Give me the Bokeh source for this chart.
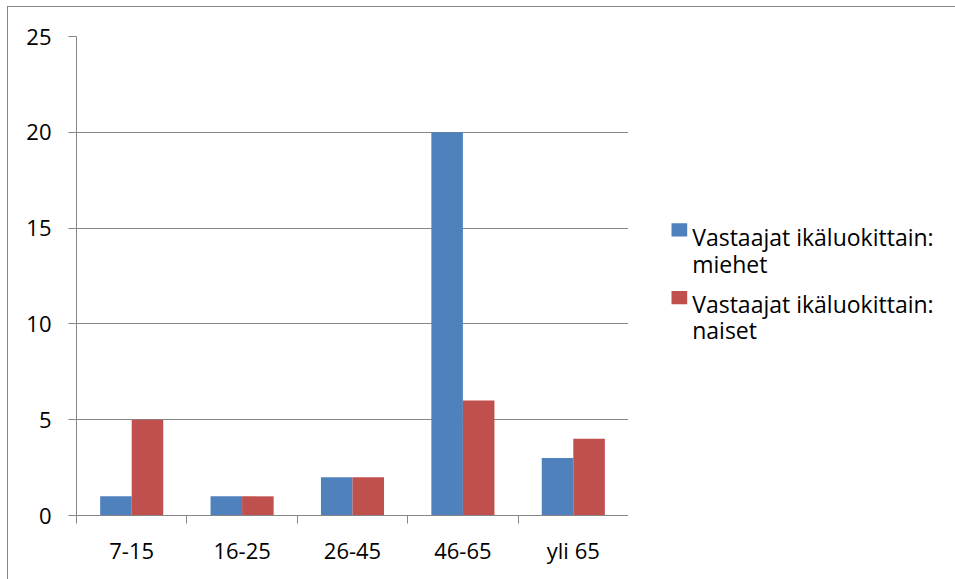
from bokeh.plotting import figure
from bokeh.layouts import row
from bokeh.models import FixedTicker, Range1d, ColumnDataSource
from bokeh.core.properties import value
from bokeh.embed import file_html
from bokeh.resources import INLINE
import numpy as np

categories = ["7-15", "16-25", "26-45", "46-65", "yli 65"]
men = [1, 1, 2, 20, 3]
women = [5, 1, 2, 6, 4]
legend_lines = [["Vastaajat ikäluokittain:", "miehet"], ["Vastaajat ikäluokittain:", "naiset"]]
y_ticks = [0, 5, 10, 15, 20, 25]

BLUE = "#4F81BD"
RED = "#C0504D"
GRAY = "#868686"
FONT = "Open Sans"
FS = "22px"
LFS = "23px"

H = 572
p = figure(width=620, height=H, x_range=Range1d(0, len(categories)), y_range=Range1d(0, 25),
           output_backend="svg", toolbar_location=None,
           min_border_left=68, min_border_right=0, min_border_top=29, min_border_bottom=64)
p.outline_line_color = None
p.background_fill_color = "white"
p.border_fill_color = "white"

idx = np.arange(len(categories))
bw = 1 / 3.5
src = ColumnDataSource(dict(xm=idx + 0.5 - bw / 2, xw=idx + 0.5 + bw / 2, men=men, women=women))
p.vbar(x="xm", top="men", width=bw, source=src, fill_color=BLUE, line_color=None)
p.vbar(x="xw", top="women", width=bw, source=src, fill_color=RED, line_color=None)

# x axis: labels at centres, ticks at category boundaries
xa = p.xaxis[0]
xa.ticker = FixedTicker(ticks=list(idx + 0.5), minor_ticks=list(range(len(categories) + 1)))
xa.major_label_overrides = {float(i + 0.5): c for i, c in enumerate(categories)}
xa.major_tick_line_color = None
xa.major_tick_out = 0
xa.major_tick_in = 0
xa.minor_tick_line_color = GRAY
xa.minor_tick_out = 8
xa.minor_tick_in = 0
xa.axis_line_color = GRAY
xa.major_label_standoff = 11
xa.major_label_text_font = FONT
xa.major_label_text_font_size = FS
xa.major_label_text_color = "black"

ya = p.yaxis[0]
ya.ticker = FixedTicker(ticks=y_ticks)
ya.minor_tick_line_color = None
ya.major_tick_line_color = GRAY
ya.major_tick_out = 8
ya.major_tick_in = 0
ya.axis_line_color = GRAY
ya.major_label_standoff = 17
ya.major_label_text_font = FONT
ya.major_label_text_font_size = FS
ya.major_label_text_color = "black"

p.xgrid.grid_line_color = None
p.ygrid.ticker = FixedTicker(ticks=y_ticks)
p.ygrid.grid_line_color = GRAY
p.ygrid.grid_line_width = 1

# legend panel (pixel coordinates, y from top)
LW = 327
lg = figure(width=LW, height=H, x_range=Range1d(0, LW), y_range=Range1d(H, 0),
            output_backend="svg", toolbar_location=None, min_border=0)
lg.axis.visible = False
lg.grid.visible = False
lg.outline_line_color = None
lg.background_fill_color = "white"
lg.border_fill_color = "white"

sq_left = 43
sq_size = 15.7
sq_tops = [223, 304]
baselines = [[239.7, 271.3], [319, 350.3]]
text_x = 63.7
lg.quad(left=[sq_left, sq_left], right=[sq_left + sq_size] * 2,
        top=sq_tops, bottom=[t + sq_size for t in sq_tops],
        fill_color=[BLUE, RED], line_color=None)
tx, ty, tt = [], [], []
for lines, bl in zip(legend_lines, baselines):
    for txt, yy in zip(lines, bl):
        tx.append(text_x)
        ty.append(yy)
        tt.append(txt)
lg.text(x=tx, y=ty, text=tt, text_font=value(FONT), text_font_size=LFS,
        text_color="black", text_baseline="alphabetic", text_align="left")

layout = row(p, lg, spacing=0)
layout.styles = {"margin-left": "7px", "margin-top": "6px",
                 "border-left": "1px solid " + GRAY, "border-top": "1px solid " + GRAY}

open("out.html", "w").write(file_html(layout, INLINE))
